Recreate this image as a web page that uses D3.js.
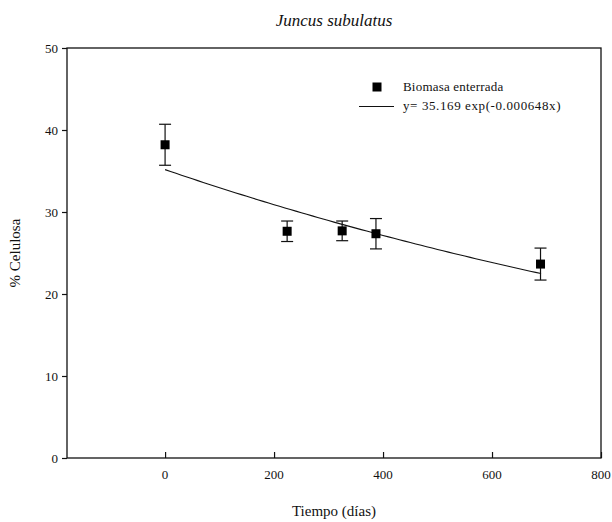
<!DOCTYPE html>
<html>
<head>
<meta charset="utf-8">
<script src="https://cdn.jsdelivr.net/npm/d3@7"></script>
<style>
  body { margin: 0; background: #fff; }
  svg text { font-family: 'Liberation Serif', 'Times New Roman', Times, 'DejaVu Serif', serif !important; fill: #111; }
</style>
</head>
<body>
<div id="chart"></div>
<script>
(function(){
    var WIDTH  = 612,
        HEIGHT = 522;

    var MARGIN = { left: 67, right: 11, top: 48, bottom: 64 };

    // buried biomass: time (days), mean cellulose, error
    var dias     = [0, 224, 325, 387, 689];
    var celulosa = [38.2, 27.65, 27.7, 27.35, 23.65];
    var error    = [2.5, 1.25, 1.2, 1.85, 1.95];

    var xTicks = [0, 200, 400, 600, 800];
    var yTicks = [0, 10, 20, 30, 40, 50];

    // exponential fit y = a * exp(b x)
    var fitA = 35.169, fitB = -0.000648;
    var fitX = d3.range(0, 690 + 1, 10);

    var svg = d3.select('#chart').append('svg')
        .attr('width', WIDTH)
        .attr('height', HEIGHT);

    var x = d3.scaleLinear()
        .domain([-180, 800])
        .range([MARGIN.left, WIDTH - MARGIN.right]);

    var y = d3.scaleLinear()
        .domain([0, 50])
        .range([HEIGHT - MARGIN.bottom, MARGIN.top]);

    // frame
    svg.append('rect')
        .attr('x', x.range()[0])
        .attr('y', y.range()[1])
        .attr('width', x.range()[1] - x.range()[0])
        .attr('height', y.range()[0] - y.range()[1])
        .attr('fill', 'none')
        .attr('stroke', '#111')
        .attr('stroke-width', 1.3);

    // x axis, ticks pointing inward
    var xAxis = svg.append('g')
        .attr('transform', 'translate(0,' + y(0) + ')')
        .call(d3.axisTop(x).tickValues(xTicks).tickSize(6));
    xAxis.select('.domain').remove();
    xAxis.selectAll('line').attr('stroke', '#111').attr('stroke-width', 1.2);
    xAxis.selectAll('text').remove();
    svg.append('g').selectAll('text')
        .data(xTicks)
        .enter().append('text')
        .attr('x', function(d){ return x(d); })
        .attr('y', y(0) + 21)
        .attr('text-anchor', 'middle')
        .attr('font-size', 13)
        .text(function(d){ return d; });

    // y axis, ticks pointing outward
    var yAxis = svg.append('g')
        .attr('transform', 'translate(' + x.range()[0] + ',0)')
        .call(d3.axisLeft(y).tickValues(yTicks).tickSize(5).tickPadding(4));
    yAxis.select('.domain').remove();
    yAxis.selectAll('line').attr('stroke', '#111').attr('stroke-width', 1.2);
    yAxis.selectAll('text')
        .attr('font-size', 13)
        .attr('fill', '#111');

    // fitted curve
    var line = d3.line()
        .x(function(d){ return x(d); })
        .y(function(d){ return y(fitA * Math.exp(fitB * d)); });

    svg.append('path')
        .datum(fitX)
        .attr('d', line)
        .attr('fill', 'none')
        .attr('stroke', '#111')
        .attr('stroke-width', 1.1);

    // error bars
    var pts = dias.map(function(d, i){ return { x: d, y: celulosa[i], e: error[i] }; });
    var eb = svg.append('g').selectAll('g')
        .data(pts)
        .enter().append('g')
        .attr('stroke', '#111')
        .attr('stroke-width', 1.2);
    eb.append('line')
        .attr('x1', function(d){ return x(d.x); })
        .attr('x2', function(d){ return x(d.x); })
        .attr('y1', function(d){ return y(d.y + d.e); })
        .attr('y2', function(d){ return y(d.y - d.e); });
    eb.append('line')
        .attr('x1', function(d){ return x(d.x) - 6; })
        .attr('x2', function(d){ return x(d.x) + 6; })
        .attr('y1', function(d){ return y(d.y + d.e); })
        .attr('y2', function(d){ return y(d.y + d.e); });
    eb.append('line')
        .attr('x1', function(d){ return x(d.x) - 6; })
        .attr('x2', function(d){ return x(d.x) + 6; })
        .attr('y1', function(d){ return y(d.y - d.e); })
        .attr('y2', function(d){ return y(d.y - d.e); });

    // markers
    svg.append('g').selectAll('rect')
        .data(pts)
        .enter().append('rect')
        .attr('x', function(d){ return x(d.x) - 4.5; })
        .attr('y', function(d){ return y(d.y) - 4.5; })
        .attr('width', 9)
        .attr('height', 9)
        .attr('fill', '#000');

    // legend
    var lg = svg.append('g');
    lg.append('rect')
        .attr('x', 372.5).attr('y', 82.5)
        .attr('width', 9).attr('height', 9)
        .attr('fill', '#000');
    lg.append('text')
        .attr('x', 403).attr('y', 91)
        .attr('font-size', 13)
        .attr('letter-spacing', 0.2)
        .text('Biomasa enterrada');
    lg.append('line')
        .attr('x1', 359).attr('x2', 394)
        .attr('y1', 106.5).attr('y2', 106.5)
        .attr('stroke', '#111')
        .attr('stroke-width', 1.1);
    lg.append('text')
        .attr('x', 403).attr('y', 110)
        .attr('font-size', 13)
        .attr('letter-spacing', 0.6)
        .text('y= 35.169 exp(-0.000648x)');

    // titles
    svg.append('text')
        .attr('x', 334).attr('y', 26)
        .attr('text-anchor', 'middle')
        .attr('font-size', 17)
        .attr('font-style', 'italic')
        .text('Juncus subulatus');

    svg.append('text')
        .attr('x', 334).attr('y', 516)
        .attr('text-anchor', 'middle')
        .attr('font-size', 15)
        .text('Tiempo (días)');

    svg.append('text')
        .attr('transform', 'translate(20,' + ((y.range()[0] + y.range()[1]) / 2) + ') rotate(-90)')
        .attr('text-anchor', 'middle')
        .attr('font-size', 15)
        .text('% Celulosa');
})();
</script>
</body>
</html>
